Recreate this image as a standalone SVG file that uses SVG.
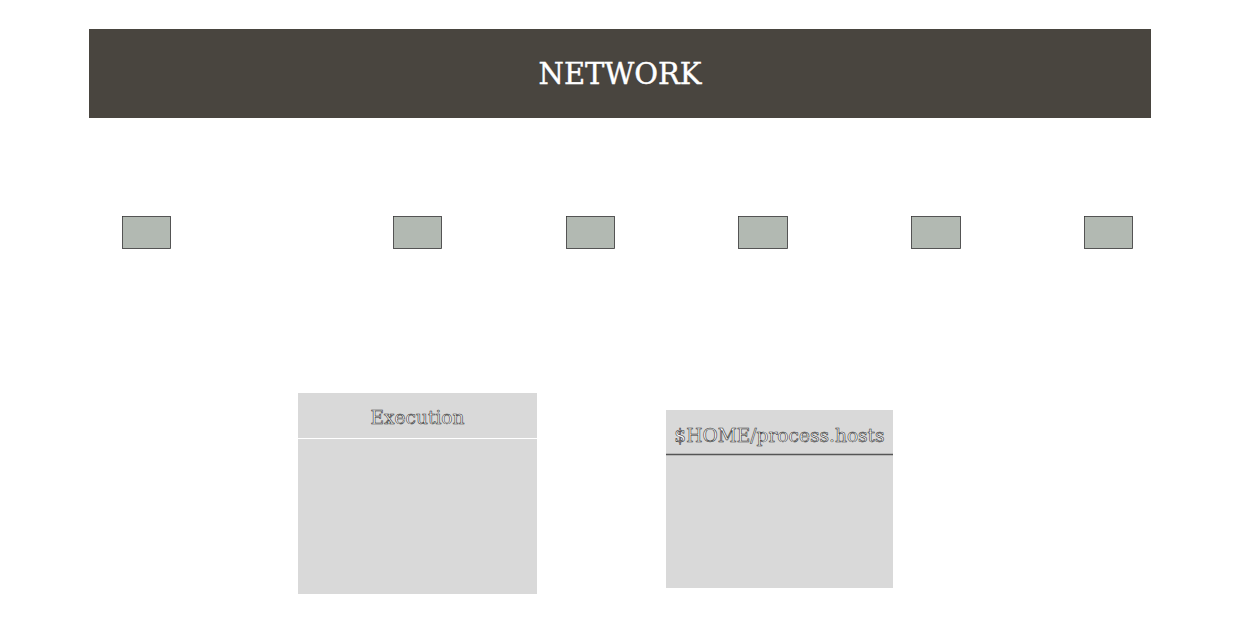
<svg xmlns="http://www.w3.org/2000/svg" width="1246" height="638" viewBox="0 0 1246 638">
<style>
.port{fill:#b2b9b2;stroke:#333;stroke-width:0.8}
.box{fill:#d9d9d9}
.lbl{font-family:"DejaVu Serif","Liberation Serif",serif;font-size:18.6px;fill:#fff;stroke:#333;stroke-width:0.6;text-anchor:middle}
</style>
<rect width="1246" height="638" fill="#fff"/>
<g id="network">
<rect x="89" y="29" width="1062" height="89" fill="#49453f"/>
<text x="620" y="84" font-family="DejaVu Serif,Liberation Serif,serif" font-size="29" fill="#fff" stroke="#fff" stroke-width="0.4" text-anchor="middle">NETWORK</text>
</g>
<g id="ports">
<rect id="p1" class="port" x="122.5" y="216.5" width="48" height="32"/>
<rect id="p2" class="port" x="393.5" y="216.5" width="48" height="32"/>
<rect id="p3" class="port" x="566.5" y="216.5" width="48" height="32"/>
<rect id="p4" class="port" x="738.5" y="216.5" width="49" height="32"/>
<rect id="p5" class="port" x="911.5" y="216.5" width="49" height="32"/>
<rect id="p6" class="port" x="1084.5" y="216.5" width="48" height="32"/>
</g>
<g id="connectors"></g>
<g id="execution">
<rect class="box" x="298" y="393" width="239" height="201"/>
<line x1="298" y1="438.5" x2="537" y2="438.5" stroke="#fff" stroke-width="1"/>
<text class="lbl" x="417.5" y="424">Execution</text>
</g>
<g id="hosts">
<rect class="box" x="666" y="410" width="227" height="178"/>
<line x1="666" y1="454.5" x2="893" y2="454.5" stroke="#555" stroke-width="1.5"/>
<text class="lbl" x="779.5" y="442">$HOME/process.hosts</text>
</g>
</svg>
